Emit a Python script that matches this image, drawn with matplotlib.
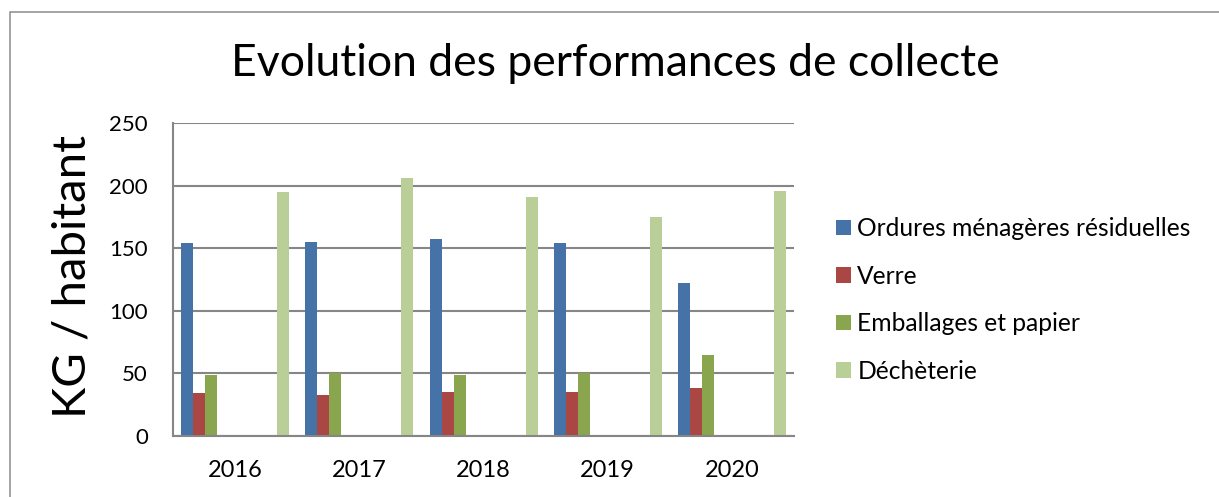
import numpy as np
import matplotlib
matplotlib.use("Agg")
import matplotlib.pyplot as plt
from matplotlib.patches import Rectangle

plt.rcParams['font.family'] = ['Lato', 'DejaVu Sans']

# data
years = ["2016", "2017", "2018", "2019", "2020"]
ordures = [154, 155, 157, 154, 122]
verre = [34, 33, 35, 35, 38]
emballages = [49, 50, 49, 50, 65]
decheterie = [195, 206, 191, 175, 196]

series_names = ["Ordures ménagères résiduelles", "Verre", "Emballages et papier", "Déchèterie"]
series_vals = [ordures, verre, emballages, decheterie]
colors = ["#4572A7", "#AA4643", "#89A54E", "#BACF97"]
# excel-like slot positions (9 slots per category, some empty)
slots = [0, 1, 2, 8]
n_slots = 9

W, H = 1219, 497
fig = plt.figure(figsize=(W / 100, H / 100), dpi=100)

# outer chart frame
fig.patches.append(Rectangle((10 / W, -0.2), 1.5, 1.2 - 11.7 / H, transform=fig.transFigure,
                             fill=False, edgecolor="#8c8c8c", linewidth=1.1))

x0, x1, ytop, ybot = 173, 794, 123, 436
ax = fig.add_axes([x0 / W, 1 - ybot / H, (x1 - x0) / W, (ybot - ytop) / H])

bw = 12 / 124.2
gap = (1 - n_slots * bw) / 2
x = np.arange(len(years))
handles = []
for vals, col, s in zip(series_vals, colors, slots):
    pos = x - 0.5 + gap + bw * (s + 0.5)
    h = ax.bar(pos, vals, width=bw, color=col, linewidth=0)
    handles.append(h)

ax.set_xlim(-0.5, len(years) - 0.5)
ax.set_ylim(0, 250)
ax.set_yticks(np.arange(0, 251, 50))
ax.set_xticks(x)
ax.set_xticklabels(years)
ax.grid(axis='y', color="#868686", linewidth=1.5)
ax.set_axisbelow(True)
for side in ['top', 'right']:
    ax.spines[side].set_visible(False)
for side in ['left', 'bottom']:
    ax.spines[side].set_color("#868686")
    ax.spines[side].set_linewidth(1.5)
ax.tick_params(axis='y', length=0, pad=18, labelsize=16, colors='black')
ax.tick_params(axis='x', length=0, pad=17, labelsize=17, colors='black')

fig.text(615.5 / W, 1 - 76 / H, "Evolution des performances de collecte",
         ha='center', va='baseline', fontsize=32)
fig.text(72 / W, 1 - 277 / H, "KG / habitant", rotation=90,
         ha='center', va='center', fontsize=34)

leg = fig.legend(handles, series_names, loc='upper left',
                 bbox_to_anchor=(836 / W, 1 - 217 / H), frameon=False,
                 fontsize=17.7, handlelength=0.59, handleheight=0.59,
                 handletextpad=0.28, labelspacing=1.0, borderpad=0, borderaxespad=0)

fig.savefig("out.png", dpi=100)
